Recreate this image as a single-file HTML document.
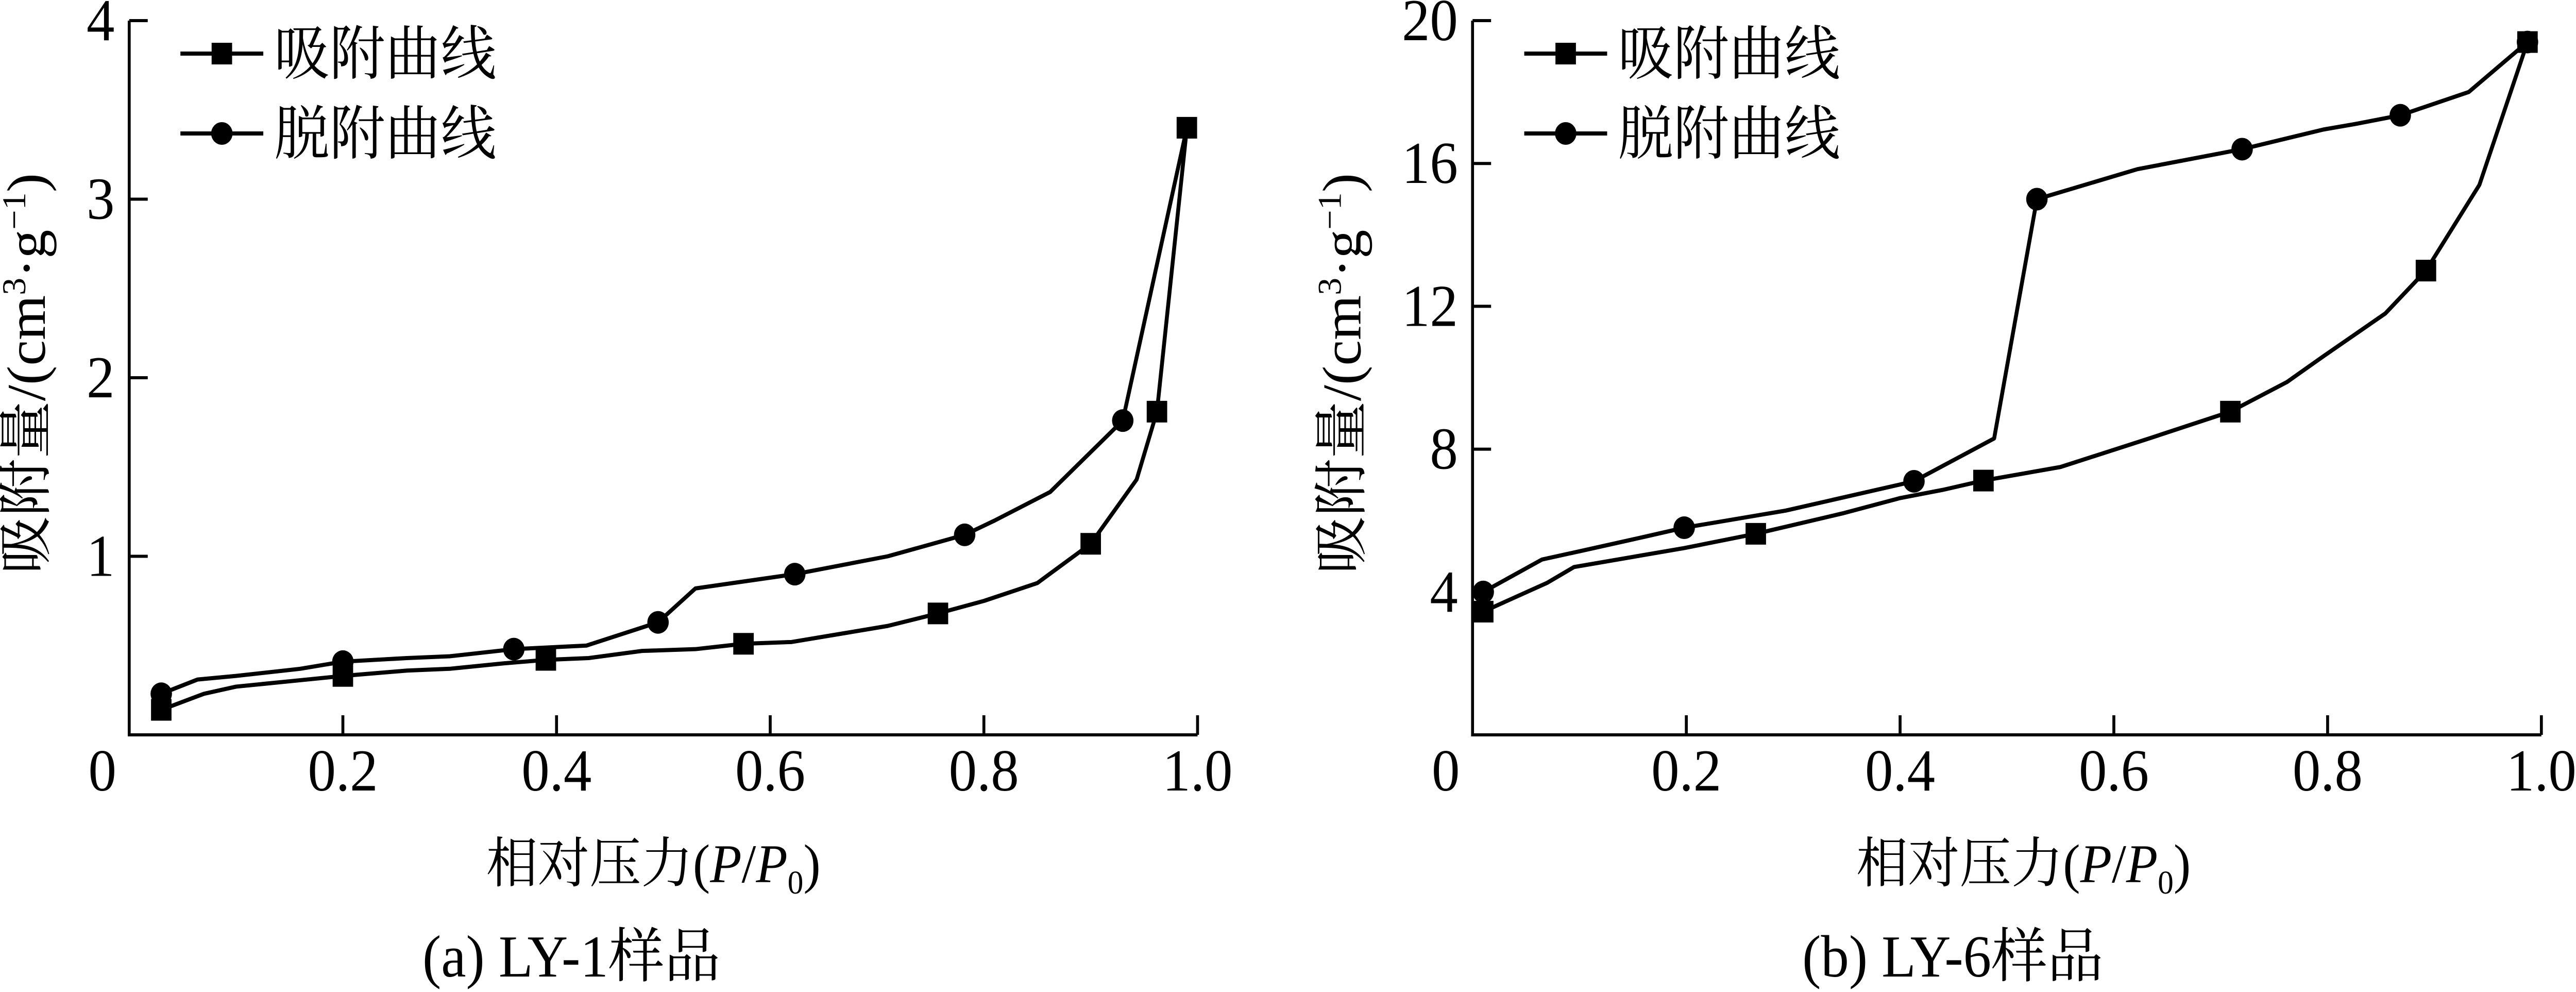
<!DOCTYPE html>
<html><head><meta charset="utf-8">
<style>
html,body{margin:0;padding:0;background:#fff;overflow:hidden;}
svg{display:block;position:fixed;left:0;top:0;width:100vw;height:100vh;}
text{font-family:"Liberation Serif","Noto Serif CJK SC",serif;fill:#000;}
.cjk{font-family:"Noto Serif CJK SC","Noto Sans CJK SC",serif;}
</style></head>
<body>
<svg id="fig" viewBox="0 0 5283 1925" preserveAspectRatio="none" xmlns="http://www.w3.org/2000/svg"></svg>
<script>
// ---- Chart (a) LY-1 data ----
const aAdsX = [0.03,0.07,0.10,0.15,0.20,0.26,0.30,0.35,0.39,0.43,0.48,0.53,0.575,0.62,0.67,0.71,0.757,0.80,0.85,0.90,0.943,0.962,0.99];
const aAdsY = [0.14,0.23,0.27,0.30,0.33,0.36,0.37,0.40,0.42,0.43,0.47,0.48,0.51,0.52,0.57,0.61,0.68,0.75,0.85,1.07,1.43,1.81,3.40];
const aAdsMarkIdx = [0,4,8,12,16,19,21,22];
const aDesX = [0.03,0.064,0.10,0.16,0.20,0.26,0.30,0.36,0.428,0.495,0.53,0.623,0.71,0.782,0.81,0.862,0.93,0.99];
const aDesY = [0.23,0.31,0.33,0.37,0.41,0.43,0.44,0.48,0.50,0.63,0.82,0.90,1.00,1.12,1.20,1.36,1.76,3.40];
const aDesMarkIdx = [0,4,7,9,11,13,16];
const aYTicks = [1,2,3,4];
const aYTickLabels = ["1","2","3","4"];
// ---- Chart (b) LY-6 data ----
const bAdsX = [0.01,0.07,0.095,0.198,0.265,0.346,0.40,0.44,0.478,0.55,0.633,0.709,0.762,0.796,0.854,0.892,0.942,0.987];
const bAdsY = [3.45,4.26,4.70,5.23,5.63,6.20,6.63,6.86,7.12,7.50,8.30,9.05,9.88,10.6,11.8,13.0,15.4,19.4];
const bAdsMarkIdx = [0,4,8,11,15,17];
const bDesX = [0.01,0.065,0.10,0.16,0.198,0.293,0.413,0.488,0.528,0.622,0.72,0.796,0.825,0.868,0.932,0.987];
const bDesY = [4.0,4.91,5.14,5.54,5.80,6.28,7.10,8.30,15.0,15.84,16.4,16.95,17.1,17.35,18.0,19.4];
const bDesMarkIdx = [0,4,6,8,10,13,15];
const bYTicks = [4,8,12,16,20];
const bYTickLabels = ["4","8","12","16","20"];
const xTicks = [0.2,0.4,0.6,0.8,1.0];
const xTickLabels = ["0.2","0.4","0.6","0.8","1.0"];

const NS = "http://www.w3.org/2000/svg";
const svg = document.getElementById('fig');
function mk(tag, attrs, parent, txt){
  const e = document.createElementNS(NS, tag);
  for (const k in attrs) e.setAttribute(k, attrs[k]);
  if (txt !== undefined) e.textContent = txt;
  (parent||svg).appendChild(e);
  return e;
}

function drawChart(cfg){
  const g = mk('g', {});
  
  
  const sx = v => cfg.x0 + (cfg.x1 - cfg.x0) * v;
  const sy = v => cfg.yBottom - (cfg.yBottom - cfg.yTop) * (v - cfg.yMin) / (cfg.yMax - cfg.yMin);
  const ax = mk('path', {d:`M${cfg.x0},${cfg.yTop} V${cfg.yBottom} H${sx(1.0)}`, fill:'none', stroke:'#000', 'stroke-width':6}, g);
  
  
  xTicks.forEach((t,i)=>{
    const tk = mk('line', {x1:sx(t), x2:sx(t), y1:cfg.yBottom, y2:cfg.yBottom-38, stroke:'#000','stroke-width':6}, g);
    
    
    const lb = mk('text', {x:sx(t), y:cfg.yBottom+108, 'font-size':115, 'text-anchor':'middle'}, g, xTickLabels[i]);
    
    
  });
  const z = mk('text', {x:cfg.x0-55, y:cfg.yBottom+108, 'font-size':115, 'text-anchor':'middle'}, g, '0');
  
  
  cfg.yTicks.forEach((t,i)=>{
    const tk = mk('line', {x1:cfg.x0, x2:cfg.x0+38, y1:sy(t), y2:sy(t), stroke:'#000','stroke-width':6}, g);
    
    
    const lb = mk('text', {x:cfg.x0-30, y:sy(t)+38, 'font-size':115, 'text-anchor':'end'}, g, cfg.yTickLabels[i]);
    
    
  });
  function series(xs, ys, marks, shape, nm){
    const sg = mk('g', {}, g);
    
    
    const pts = xs.map((x,i)=>`${sx(x)},${sy(ys[i])}`).join(' ');
    const pl = mk('polyline', {points:pts, fill:'none', stroke:'#000','stroke-width':8,'stroke-linejoin':'round'}, sg);
    
    
    marks.forEach(i=>{
      let m;
      if (shape==='sq') m = mk('rect', {x:sx(xs[i])-21, y:sy(ys[i])-21, width:42, height:42, fill:'#000'}, sg);
      else m = mk('circle', {cx:sx(xs[i]), cy:sy(ys[i]), r:22, fill:'#000'}, sg);
      
      
    });
  }
  series(cfg.adsX, cfg.adsY, cfg.adsM, 'sq', 'adsorption-series');
  series(cfg.desX, cfg.desY, cfg.desM, 'ci', 'desorption-series');
  const lg = mk('g', {}, g);
  
  
  const L = cfg.legX;
  [['sq','吸附曲线',104],['ci','脱附曲线',259]].forEach(([s,t,y])=>{
    const e = mk('g', {}, lg);
    
    
    mk('line', {x1:L, x2:L+170, y1:y, y2:y, stroke:'#000','stroke-width':8}, e);
    if (s==='sq') mk('rect', {x:L+64, y:y-21, width:42, height:42, fill:'#000'}, e);
    else mk('circle', {cx:L+85, cy:y, r:22, fill:'#000'}, e);
    mk('text', {x:L+192, y:y+40, 'font-size':114, class:'cjk'}, e, t);
  });
  const yt = mk('text', {transform:`translate(${cfg.yTitleX},${cfg.yTitleY}) rotate(-90)`, 'font-size':112, 'text-anchor':'middle'}, g);
  
  
  mk('tspan', {class:'cjk'}, yt, '吸附量');
  mk('tspan', {}, yt, '/(cm');
  mk('tspan', {'font-size':68, dy:-40}, yt, '3');
  mk('tspan', {dy:40}, yt, '·g');
  mk('tspan', {'font-size':68, dy:-40}, yt, '−1');
  mk('tspan', {dy:40}, yt, ')');
  const xt = mk('text', {x:cfg.xTitleX, y:1712, 'font-size':106, 'text-anchor':'middle'}, g);
  
  
  mk('tspan', {class:'cjk'}, xt, '相对压力');
  mk('tspan', {}, xt, '(');
  mk('tspan', {'font-style':'italic'}, xt, 'P');
  mk('tspan', {}, xt, '/');
  mk('tspan', {'font-style':'italic'}, xt, 'P');
  mk('tspan', {'font-size':65, dy:22}, xt, '0');
  mk('tspan', {dy:-22}, xt, ')');
  const cp = mk('text', {x:cfg.capX, y:1895, 'font-size':115, 'text-anchor':'middle'}, g);
  
  
  mk('tspan', {}, cp, cfg.capA);
  mk('tspan', {class:'cjk'}, cp, '样品');
}

drawChart({name:'chart-ly1', x0:265, x1:2456, yTop:40, yBottom:1426, yMin:0, yMax:4,
  yTicks:aYTicks, yTickLabels:aYTickLabels,
  adsX:aAdsX, adsY:aAdsY, adsM:aAdsMarkIdx, desX:aDesX, desY:aDesY, desM:aDesMarkIdx,
  legX:370, yTitleX:92, yTitleY:725, xTitleX:1340, capX:1172, capA:'(a) LY-1'});
drawChart({name:'chart-ly6', x0:3020, x1:5212, yTop:40, yBottom:1426, yMin:0, yMax:20,
  yTicks:bYTicks, yTickLabels:bYTickLabels,
  adsX:bAdsX, adsY:bAdsY, adsM:bAdsMarkIdx, desX:bDesX, desY:bDesY, desM:bDesMarkIdx,
  legX:3126, yTitleX:2790, yTitleY:725, xTitleX:4150, capX:4005, capA:'(b) LY-6'});
</script>
</body></html>
